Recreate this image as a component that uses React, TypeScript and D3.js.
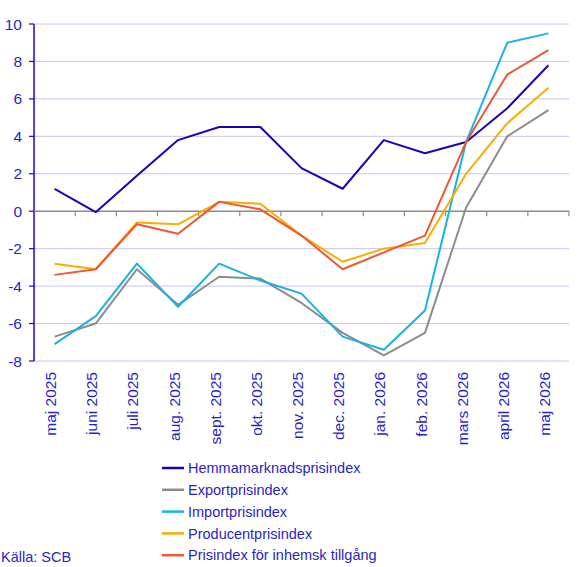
import * as d3 from 'd3'

// ── data ─────────────────────────────────────────────────────────────────────
const months = [
  'maj 2025', 'juni 2025', 'juli 2025', 'aug. 2025', 'sept. 2025', 'okt. 2025', 'nov. 2025',
  'dec. 2025', 'jan. 2026', 'feb. 2026', 'mars 2026', 'april 2026', 'maj 2026',
]
const hemma     = [1.2, -0.05, 1.9, 3.8, 4.5, 4.5, 2.3, 1.2, 3.8, 3.1, 3.7, 5.5, 7.8]
const exportP   = [-6.7, -6.0, -3.1, -5.0, -3.5, -3.6, -4.9, -6.5, -7.7, -6.5, 0.2, 4.0, 5.4]
const importP   = [-7.1, -5.6, -2.8, -5.1, -2.8, -3.7, -4.4, -6.7, -7.4, -5.3, 3.7, 9.0, 9.5]
const producent = [-2.8, -3.1, -0.6, -0.7, 0.5, 0.4, -1.3, -2.7, -2.0, -1.7, 2.0, 4.7, 6.6]
const inhemsk   = [-3.4, -3.1, -0.7, -1.2, 0.5, 0.1, -1.3, -3.1, -2.2, -1.3, 3.7, 7.3, 8.6]
const yTicks    = [-8, -6, -4, -2, 0, 2, 4, 6, 8, 10]

const series = [
  { name: 'Hemmamarknadsprisindex',       values: hemma,     color: '#1f00b8' },
  { name: 'Exportprisindex',              values: exportP,   color: '#8c8c8c' },
  { name: 'Importprisindex',              values: importP,   color: '#19b1e6' },
  { name: 'Producentprisindex',           values: producent, color: '#f7ae00' },
  { name: 'Prisindex för inhemsk tillgång', values: inhemsk, color: '#ee5634' },
]

// ── layout ───────────────────────────────────────────────────────────────────
const W = 580
const H = 567
const L = 34, R = 569, T = 24, B = 361
const TXT  = '#2a1fc4'
const GRID = '#c6c6f4'
const FONT = '"Liberation Sans", Arial, sans-serif'

export default function App() {
  const x = d3.scalePoint<string>().domain(months).range([L, R]).padding(0.5)
  const band = d3.scaleBand<string>().domain(months).range([L, R])
  const y = d3.scaleLinear().domain([-8, 10]).range([B, T])

  const line = d3.line<number>()
    .x((_, i) => x(months[i]) ?? 0)
    .y(v => y(v))

  const tickXs = [...months.slice(1).map(m => band(m) ?? 0), R]

  return (
    <div style={{ position: 'absolute', left: 0, top: 0 }}>
      <svg width={W} height={H} style={{ display: 'block', fontFamily: FONT }}>
        {/* grid */}
        {yTicks.filter(t => t !== 0).map(t => (
          <line key={t} x1={L} x2={R} y1={y(t)} y2={y(t)} stroke={GRID} strokeWidth={1} />
        ))}

        {/* y axis */}
        <line x1={L} x2={L} y1={T} y2={B} stroke="#2200c8" strokeWidth={1.5} />
        {yTicks.map(t => (
          <g key={t}>
            <line x1={L - 5} x2={L} y1={y(t)} y2={y(t)} stroke="#2200c8" strokeWidth={1.2} />
            <text x={22} y={y(t)} dy="0.36em" textAnchor="end" fontSize={15.5} fill={TXT}>{t}</text>
          </g>
        ))}

        {/* zero line + category ticks */}
        <line x1={L} x2={R} y1={y(0)} y2={y(0)} stroke="#8a8a8a" strokeWidth={1.5} />
        {tickXs.map((tx, i) => (
          <line key={i} x1={tx} x2={tx} y1={y(0)} y2={y(0) + 5} stroke="#8a8a8a" strokeWidth={1.2} />
        ))}

        {/* series */}
        {series.map(s => (
          <path key={s.name} d={line(s.values) ?? ''} fill="none" stroke={s.color}
            strokeWidth={2} strokeLinejoin="round" />
        ))}

        {/* x labels */}
        {months.map(m => (
          <text key={m} transform={`translate(${x(m)},${B + 11}) rotate(-90)`} dy="0.1em"
            textAnchor="end" fontSize={15.5} fill={TXT}>{m}</text>
        ))}

        {/* legend */}
        {series.map((s, i) => {
          const cy = 468 + i * 21.8
          return (
            <g key={s.name}>
              <line x1={162} x2={184} y1={cy} y2={cy} stroke={s.color} strokeWidth={2.5} />
              <text x={188} y={cy} dy="0.36em" fontSize={14.5} fill={TXT}>{s.name}</text>
            </g>
          )
        })}

        <text x={1} y={557} dy="0.36em" fontSize={14.5} fill={TXT}>Källa: SCB</text>
      </svg>
    </div>
  )
}
